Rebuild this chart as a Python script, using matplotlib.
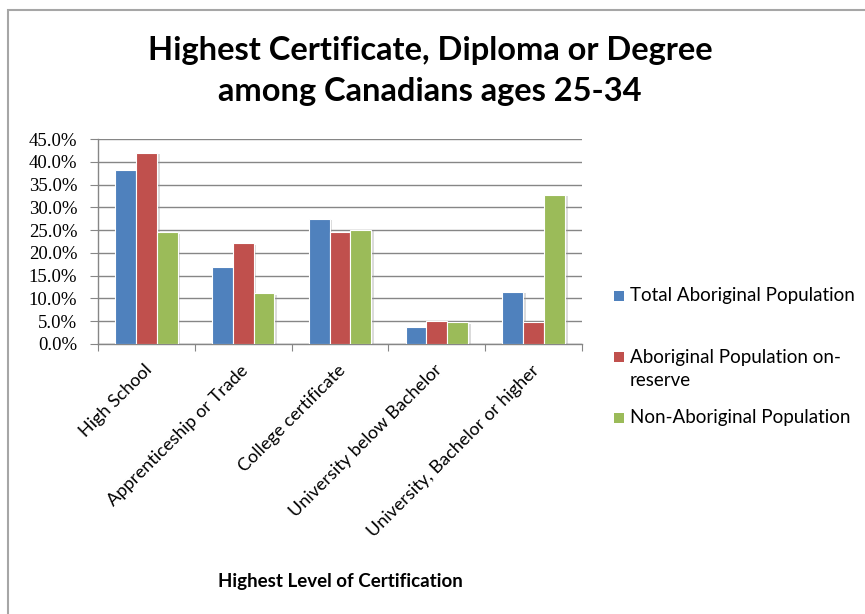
import numpy as np
import matplotlib.pyplot as plt
from matplotlib import patheffects as pe
from matplotlib.patches import Rectangle
from matplotlib.ticker import FuncFormatter, MultipleLocator

categories = ["High School", "Apprenticeship or Trade", "College certificate",
              "University below Bachelor", "University, Bachelor or higher"]
series = ["Total Aboriginal Population", "Aboriginal Population on-\nreserve",
          "Non-Aboriginal Population"]
total_aboriginal = [38.2, 17.0, 27.5, 3.7, 11.5]
on_reserve = [42.0, 22.1, 24.5, 5.0, 4.8]
non_aboriginal = [24.5, 11.1, 25.1, 4.8, 32.8]
colors = ["#4F81BD", "#C0504D", "#9BBB59"]

W, H = 865, 614
fig = plt.figure(figsize=(W / 100, H / 100), dpi=100)
fig.patch.set_facecolor("white")

# chart-area border (top and left edges only fall inside the frame)
fig.patches.append(Rectangle((8 / W, -0.1), 2, 1 - 10 / H + 0.1, transform=fig.transFigure,
                             fill=False, edgecolor="#a6a6a6", linewidth=1.5))

ax = fig.add_axes([98 / W, 1 - 344 / H, (582 - 98) / W, (344 - 139) / H])

x = np.arange(len(categories))
width = 0.215
shadow = [pe.SimplePatchShadow(offset=(2, -1), shadow_rgbFace="#999999", alpha=0.35), pe.Normal()]
for i, (vals, c) in enumerate(zip([total_aboriginal, on_reserve, non_aboriginal], colors)):
    ax.bar(x + (i - 1) * width, vals, width, color=c, edgecolor="white", linewidth=0.8,
           zorder=3, path_effects=shadow)

ax.set_xlim(-0.5, len(categories) - 0.5)
ax.set_ylim(0, 45)
ax.yaxis.set_major_locator(MultipleLocator(5))
ax.yaxis.set_major_formatter(FuncFormatter(lambda v, p: f"{v:.1f}%"))
ax.grid(axis="y", color="#868686", linewidth=1.0, zorder=0)
ax.set_axisbelow(True)

for s in ["top", "right"]:
    ax.spines[s].set_visible(False)
for s in ["left", "bottom"]:
    ax.spines[s].set_color("#868686")
    ax.spines[s].set_linewidth(1.0)

ax.tick_params(axis="y", length=6, color="#868686", pad=9, labelsize=13.5)
for lbl in ax.get_yticklabels():
    lbl.set_family("Liberation Serif")

ax.set_xticks(np.arange(len(categories) + 1) - 0.5, minor=False)
ax.set_xticklabels([])
ax.tick_params(axis="x", length=5, color="#868686")
for xi, name in zip(x, categories):
    ax.annotate(name, (xi, 0), xycoords="data", xytext=(2, -17), textcoords="offset points",
                rotation=45, rotation_mode="anchor", ha="right", va="center",
                fontsize=13, family="Lato")

fig.text(340 / W, 1 - 582 / H, "Highest Level of Certification", ha="center", va="center",
         fontsize=13.5, fontweight="bold", family="Lato")

fig.text(430 / W, 1 - 36 / H, "Highest Certificate, Diploma or Degree\namong Canadians ages 25-34",
         ha="center", va="top", fontsize=23.5, fontweight="bold", family="Lato",
         linespacing=1.48)

# legend drawn by hand to keep the uneven row spacing
legend_rows = [296, 357, 418]
for name, c, yr in zip(series, colors, legend_rows):
    fig.patches.append(Rectangle((614 / W, 1 - (yr + 5) / H), 10 / W, 10 / H,
                                 transform=fig.transFigure, facecolor=c, edgecolor="none"))
    if "\n" in name:
        fig.text(630 / W, 1 - (yr - 8) / H, name, ha="left", va="top",
                 fontsize=13.5, family="Lato", linespacing=1.4)
    else:
        fig.text(630 / W, 1 - yr / H, name, ha="left", va="center",
                 fontsize=13.5, family="Lato")

fig.savefig("out.png", dpi=100, facecolor="white")
